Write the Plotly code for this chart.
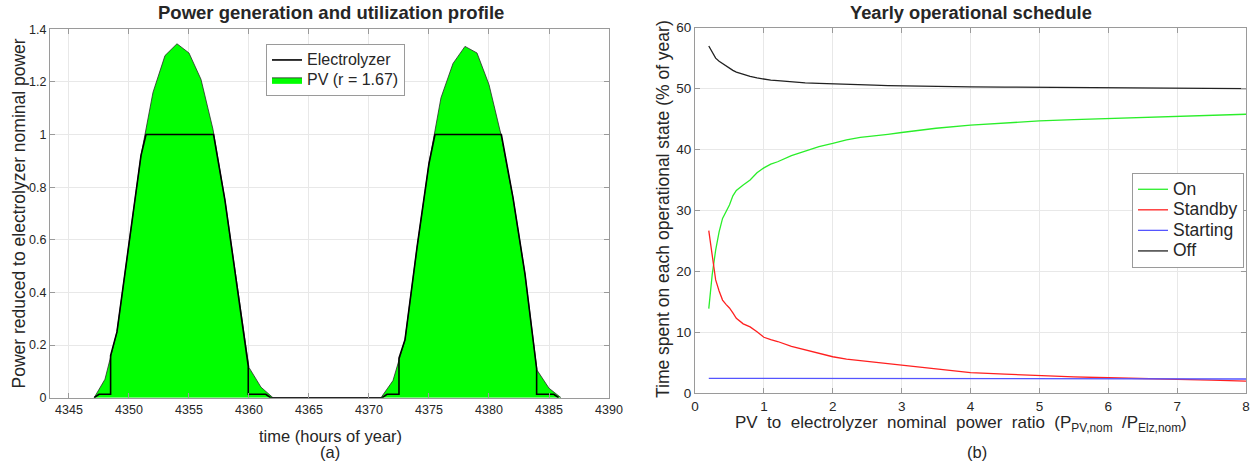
import plotly.graph_objects as go

# ---------------- data: panel (a) ----------------
pv_time = [4347.1, 4348.0, 4349.0, 4350.0, 4351.0, 4352.0, 4353.0, 4354.0, 4355.0,
           4356.0, 4357.0, 4358.0, 4359.0, 4360.0, 4361.0, 4362.0,
           4371.0, 4372.0, 4373.0, 4374.0, 4375.0, 4376.0, 4377.0, 4378.0, 4379.0,
           4380.0, 4381.0, 4382.0, 4383.0, 4384.0, 4385.0, 4386.0]
pv_power = [0.0, 0.07, 0.25, 0.58, 0.92, 1.16, 1.30, 1.345, 1.31,
            1.21, 1.02, 0.75, 0.43, 0.115, 0.04, 0.0,
            0.0, 0.065, 0.22, 0.57, 0.89, 1.14, 1.27, 1.335, 1.31,
            1.19, 1.0, 0.76, 0.47, 0.105, 0.036, 0.0]

elz_time = [4347.1, 4347.5, 4348.47, 4348.47, 4349.0, 4350.0, 4351.0, 4351.42, 4357.05,
            4358.0, 4359.0, 4359.94, 4359.94, 4361.4, 4361.8,
            4371.1, 4371.5, 4372.5, 4372.5, 4373.0, 4374.0, 4375.0, 4375.5, 4381.03,
            4382.0, 4383.0, 4383.97, 4383.97, 4385.4, 4385.8]
elz_power = [0.0, 0.013, 0.013, 0.16, 0.25, 0.58, 0.92, 1.0, 1.0,
             0.75, 0.43, 0.12, 0.013, 0.013, 0.0,
             0.0, 0.013, 0.013, 0.15, 0.22, 0.57, 0.89, 1.0, 1.0,
             0.76, 0.47, 0.11, 0.013, 0.013, 0.0]

# ---------------- data: panel (b) ----------------
ratio = [0.2, 0.25, 0.3, 0.35, 0.4, 0.45, 0.5, 0.55, 0.6, 0.7, 0.8, 0.9, 1.0, 1.1, 1.2,
         1.4, 1.6, 1.8, 2.0, 2.2, 2.4, 2.6, 2.8, 3.0, 3.5, 4.0, 4.5, 5.0, 5.5, 6.0,
         6.5, 7.0, 7.5, 8.0]
on_pct = [13.9, 19.5, 23.5, 26.5, 28.7, 29.8, 30.9, 32.4, 33.3, 34.2, 35.0, 36.2, 37.0,
          37.6, 38.0, 39.0, 39.8, 40.5, 41.0, 41.6, 42.0, 42.2, 42.5, 42.8, 43.5, 44.0,
          44.4, 44.7, 44.9, 45.1, 45.3, 45.5, 45.65, 45.8]
standby_pct = [26.7, 22.5, 18.6, 16.8, 15.3, 14.6, 14.0, 13.2, 12.3, 11.4, 10.9, 10.1,
               9.2, 8.8, 8.5, 7.7, 7.1, 6.5, 6.0, 5.6, 5.35, 5.1, 4.85, 4.55, 3.95,
               3.4, 3.15, 2.9, 2.7, 2.55, 2.45, 2.3, 2.15, 2.0]
starting_pct = [2.45, 2.45, 2.45, 2.45, 2.44, 2.44, 2.44, 2.44, 2.43, 2.43, 2.43, 2.43,
                2.42, 2.42, 2.42, 2.42, 2.41, 2.41, 2.41, 2.4, 2.4, 2.4, 2.4, 2.4, 2.39,
                2.39, 2.38, 2.38, 2.37, 2.37, 2.36, 2.36, 2.35, 2.35]
off_pct = [57.0, 55.9, 55.0, 54.5, 54.1, 53.8, 53.4, 53.0, 52.7, 52.3, 52.0, 51.75,
           51.55, 51.4, 51.3, 51.1, 50.95, 50.85, 50.75, 50.68, 50.62, 50.57, 50.5,
           50.45, 50.38, 50.3, 50.25, 50.2, 50.15, 50.1, 50.07, 50.05, 50.02, 50.0]

W, H = 1252, 462
FONT = "Liberation Sans, Arial, Helvetica, sans-serif"
TXT = "#262626"


def px(x):
    return x / W


def py(y):
    return 1 - y / H


def big(label, size):
    return "<span style='font-size:%spx'>%s</span>" % (size, label)


fig = go.Figure()

fig.add_trace(go.Scatter(
    x=pv_time, y=pv_power, mode="lines", fill="tozeroy",
    fillcolor="#00ff00", line=dict(color="#2a2a2a", width=0.8),
    name=big("PV (r = 1.67)", 16), legend="legend", legendrank=2,
    xaxis="x", yaxis="y"))
fig.add_trace(go.Scatter(
    x=elz_time, y=elz_power, mode="lines",
    line=dict(color="#000000", width=1.6),
    name=big("Electrolyzer", 16), legend="legend", legendrank=1,
    xaxis="x", yaxis="y"))

for name, vals, col in [("On", on_pct, "#2aee2a"), ("Standby", standby_pct, "#ff2020"),
                        ("Starting", starting_pct, "#5555ff"), ("Off", off_pct, "#222222")]:
    fig.add_trace(go.Scatter(
        x=ratio, y=vals, mode="lines", line=dict(color=col, width=1.3),
        name=big(name, 17.5), legend="legend2", xaxis="x2", yaxis="y2"))

axis_common = dict(
    showline=True, linecolor="#9a9a9a", linewidth=1, mirror="ticks",
    ticks="inside", ticklen=5, tickcolor="#9a9a9a",
    showgrid=True, gridcolor="#e8e8e8", gridwidth=1,
    zeroline=False, automargin=False,
)

fig.update_layout(
    template="none",
    width=W, height=H, autosize=False,
    margin=dict(l=0, r=0, t=0, b=0, pad=0, autoexpand=False),
    paper_bgcolor="white", plot_bgcolor="white",
    font=dict(family=FONT, color=TXT),
    xaxis=dict(domain=[px(50), px(609)], range=[4343.42, 4390], dtick=5, tick0=4345,
               anchor="y", tickfont=dict(family=FONT, color=TXT, size=12.5), **axis_common),
    yaxis=dict(domain=[py(397.7), py(29.3)], range=[0, 1.4], dtick=0.2,
               anchor="x", tickfont=dict(family=FONT, color=TXT, size=12.5), **axis_common),
    xaxis2=dict(domain=[px(695), px(1246)], range=[0, 8], dtick=1,
                anchor="y2", tickfont=dict(family=FONT, color=TXT, size=13.5), **axis_common),
    yaxis2=dict(domain=[py(393.3), py(27.7)], range=[0, 60], dtick=10,
                anchor="x2", tickfont=dict(family=FONT, color=TXT, size=13.5), **axis_common),
    legend=dict(x=px(266), y=py(44), xanchor="left", yanchor="top",
                bgcolor="white", bordercolor="#9a9a9a", borderwidth=1,
                font=dict(family=FONT, size=13, color=TXT), itemwidth=30,
                tracegroupgap=0, traceorder="normal"),
    legend2=dict(x=px(1132), y=py(173), xanchor="left", yanchor="top",
                 bgcolor="white", bordercolor="#9a9a9a", borderwidth=1,
                 font=dict(family=FONT, size=13.5, color=TXT), itemwidth=30,
                 tracegroupgap=0),
    showlegend=True,
)

NB = "\u00a0"
ann = [
    dict(text="<b>Power generation and utilization profile</b>", x=px(331), y=py(13),
         font=dict(size=18.5)),
    dict(text="<b>Yearly operational schedule</b>", x=px(971), y=py(13),
         font=dict(size=18.3)),
    dict(text="time (hours of year)", x=px(330), y=py(436), font=dict(size=16.5)),
    dict(text="(a)", x=px(330), y=py(452), font=dict(size=16.5)),
    dict(text="Power reduced to electrolyzer nominal power", x=px(18), y=py(213.5),
         textangle=-90, font=dict(size=17.5)),
    dict(text="Time spent on each operational state (% of year)", x=px(663), y=py(209),
         textangle=-90, font=dict(size=17.5)),
    dict(text=("PV" + NB * 2 + "to" + NB * 2 + "electrolyzer" + NB * 2 + "nominal" + NB * 2 +
               "power" + NB * 2 + "ratio" + NB * 2 + "(P<sub>PV,nom</sub>" + NB * 2 +
               "/P<sub>Elz,nom</sub>)"),
         x=px(961), y=py(424), font=dict(size=17)),
    dict(text="(b)", x=px(977), y=py(452), font=dict(size=16.5)),
]
for a in ann:
    a.update(xref="paper", yref="paper", showarrow=False, xanchor="center", yanchor="middle")
    a["font"] = dict(family=FONT, color=TXT, **a["font"])
fig.update_layout(annotations=ann)

fig.write_html("out.html", config={"displayModeBar": False, "responsive": False},
               post_script="document.body.style.margin='0px';"
                           "document.body.style.overflow='hidden';")
